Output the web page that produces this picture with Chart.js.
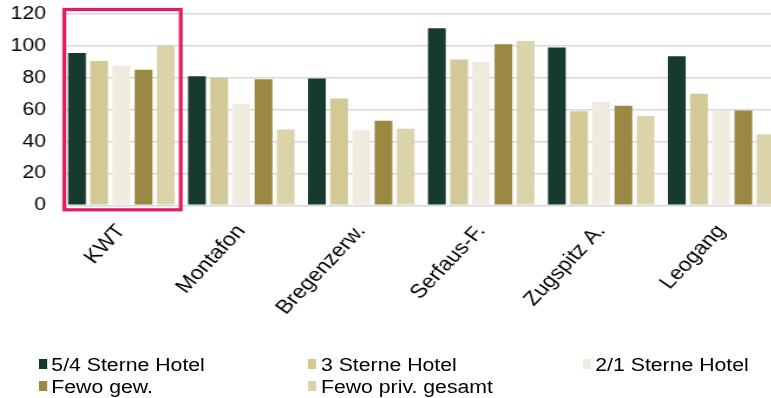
<!DOCTYPE html>
<html>
<head>
<meta charset="utf-8">
<script src="https://cdn.jsdelivr.net/npm/chart.js@4.4.0/dist/chart.umd.min.js"></script>
<style>
    html, body { margin: 0; padding: 0; background: #fff; width: 771px; height: 398px; overflow: hidden; }
    #wrap { position: absolute; left: 0; top: 0; width: 665px; height: 398px; transform: scaleX(1.18); transform-origin: 0 0; }
    #chartCanvas { position: absolute; left: 0; top: 0; }
    #legend { position: absolute; left: 0; top: 0; width: 665px; height: 398px;
        font-family: "Liberation Sans", Arial, sans-serif; font-size: 18px; color: #000; }
    .item { position: absolute; white-space: nowrap; line-height: 20px; height: 20px; }
    .item .box { position: absolute; left: 0; top: 4px; width: 7px; height: 10px; }
    .item .txt { position: absolute; left: 11px; top: 0; }
</style>
</head>
<body>
<div id="wrap">
    <canvas id="chartCanvas" width="665" height="340"></canvas>
    <div id="legend"></div>
</div>
<script>
const regionen = ['KWT', 'Montafon', 'Bregenzerw.', 'Serfaus-F.', 'Zugspitz A.', 'Leogang'];

const sterne54 = [95.5, 81, 79.5, 111, 99, 93.5];
const sterne3 = [90.5, 80, 67, 91.5, 59, 70];
const sterne21 = [87.5, 63.5, 47, 90, 65, 59.5];
const fewoGew = [85, 79, 53, 101, 62.5, 59.5];
const fewoPriv = [100.5, 47.5, 48, 103, 56, 44.5];

const serienNamen = ['5/4 Sterne Hotel', '3 Sterne Hotel', '2/1 Sterne Hotel', 'Fewo gew.', 'Fewo priv. gesamt'];
const farben = ['#163a2e', '#d3c994', '#f0ebdf', '#9a8843', '#dbd3aa'];
const yTicks = [0, 20, 40, 60, 80, 100, 120];

const fontName = '"Liberation Sans", Arial, sans-serif';

// roter Rahmen um die erste Kategorie (KWT)
const rahmenPlugin = {
    id: 'rahmen',
    afterDatasetsDraw(chart) {
        const x = chart.scales.x;
        const area = chart.chartArea;
        const c0 = x.getPixelForValue(0);
        const half = (x.getPixelForValue(1) - c0) / 2;
        const ctx = chart.ctx;
        ctx.save();
        ctx.strokeStyle = '#e31b65';
        ctx.lineWidth = 3.2;
        ctx.strokeRect(c0 - half + 2.5, area.top - 4.5, 2 * half - 3, area.bottom - area.top + 9);
        ctx.restore();
    }
};

const werte = [sterne54, sterne3, sterne21, fewoGew, fewoPriv];
const datasets = werte.map((arr, i) => ({
    label: serienNamen[i],
    data: arr,
    backgroundColor: farben[i],
    borderWidth: 0,
    barPercentage: 0.8,
    categoryPercentage: 0.925
}));

const chart = new Chart(document.getElementById('chartCanvas'), {
    type: 'bar',
    data: { labels: regionen, datasets: datasets },
    options: {
        responsive: false,
        animation: false,
        devicePixelRatio: 1,
        layout: { padding: { top: 14, left: 0, right: 3, bottom: 0 } },
        plugins: {
            legend: { display: false },
            tooltip: { enabled: false }
        },
        scales: {
            x: {
                grid: { display: false },
                border: { display: false },
                ticks: {
                    color: '#000',
                    font: { family: fontName, size: 19.5 },
                    maxRotation: 51,
                    minRotation: 51,
                    padding: 7
                },
                afterFit(scale) { scale.height = 340 - 205.3; }
            },
            y: {
                min: 0,
                max: 120,
                afterBuildTicks(scale) { scale.ticks = yTicks.map(v => ({ value: v })); },
                grid: { color: '#d9d9d9', lineWidth: 1.6, drawTicks: false },
                border: { display: false },
                ticks: {
                    color: '#000',
                    font: { family: fontName, size: 18 },
                    padding: 13
                },
                afterFit(scale) {
                    scale.width = 52;
                    scale.paddingTop = 0;
                    scale.paddingBottom = 0;
                }
            }
        }
    },
    plugins: [rahmenPlugin]
});

// Legende in drei Spalten
const spaltenX = [32.5, 261, 493.5];
const zeilenY = [355, 377];
const legend = document.getElementById('legend');
chart.data.datasets.forEach((ds, i) => {
    const item = document.createElement('div');
    item.className = 'item';
    item.style.left = spaltenX[i % 3] + 'px';
    item.style.top = zeilenY[Math.floor(i / 3)] + 'px';
    const box = document.createElement('span');
    box.className = 'box';
    box.style.background = ds.backgroundColor;
    const txt = document.createElement('span');
    txt.className = 'txt';
    txt.textContent = ds.label;
    item.appendChild(box);
    item.appendChild(txt);
    legend.appendChild(item);
});
</script>
</body>
</html>
